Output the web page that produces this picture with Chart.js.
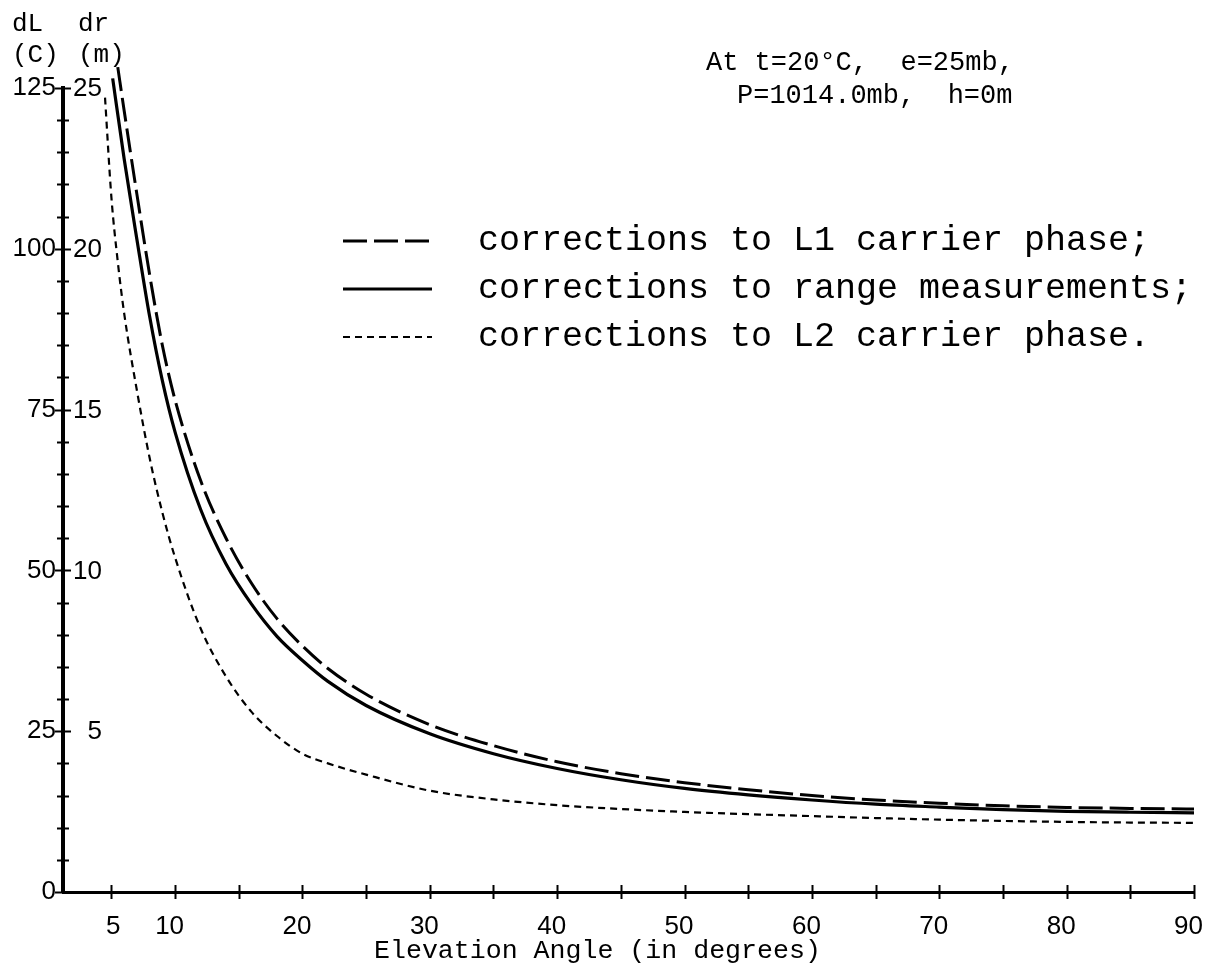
<!DOCTYPE html>
<html>
<head>
<meta charset="utf-8">
<script src="https://cdn.jsdelivr.net/npm/chart.js@4.4.1/dist/chart.umd.min.js"></script>
<style>
  html, body { margin: 0; padding: 0; background: #fff; }
  #wrap { width: 1213px; height: 969px; position: relative; }
</style>
</head>
<body>
<div id="wrap"><canvas id="c" width="1213" height="969"></canvas></div>
<script>
// ---- data (dr in metres; dL in cycles = 5 x dr) ----
const elevL1 = [5.5, 6, 7, 8, 9, 10, 12, 14, 16, 18, 20, 22, 25, 30, 35, 40, 45, 50, 55, 60, 65, 70, 75, 80, 85, 90];
const valsL1 = [25.65, 24.3, 21.7, 19.2, 17.0, 15.3, 12.8, 11.0, 9.6, 8.5, 7.65, 6.95, 6.15, 5.2, 4.55, 4.05, 3.68, 3.4, 3.18, 3.0, 2.86, 2.76, 2.68, 2.63, 2.6, 2.58];

const elevRange = [5.1, 6, 7, 8, 9, 10, 12, 14, 16, 18, 20, 22, 25, 30, 35, 40, 45, 50, 55, 60, 65, 70, 75, 80, 85, 90];
const valsRange = [25.3, 22.8, 20.3, 17.9, 15.9, 14.3, 11.9, 10.2, 8.95, 7.95, 7.2, 6.55, 5.8, 4.92, 4.3, 3.84, 3.49, 3.22, 3.02, 2.86, 2.73, 2.64, 2.56, 2.51, 2.48, 2.46];

const elevL2 = [4.5, 5, 5.5, 6, 7, 8, 9, 10, 12, 14, 16, 18, 20, 22, 25, 30, 35, 40, 45, 50, 55, 60, 65, 70, 75, 80, 85, 90];
const valsL2 = [24.7, 21.6, 19.6, 18.0, 15.6, 13.5, 11.8, 10.4, 8.2, 6.7, 5.6, 4.85, 4.3, 4.0, 3.65, 3.15, 2.88, 2.7, 2.58, 2.49, 2.42, 2.36, 2.3, 2.25, 2.21, 2.18, 2.16, 2.15];

const seriesLabels = [
  'corrections to L1 carrier phase;',
  'corrections to range measurements;',
  'corrections to L2 carrier phase.'
];

const xTickValues = [5, 10, 15, 20, 25, 30, 35, 40, 45, 50, 55, 60, 65, 70, 75, 80, 85, 90];
const xTickLabels = ['5', '10', '', '20', '', '30', '', '40', '', '50', '', '60', '', '70', '', '80', '', '90'];
const yTickValues = [0, 5, 10, 15, 20, 25];            // metres
const yTickLabelsDL = ['0', '25', '50', '75', '100', '125'];  // cycles
const yTickLabelsDR = ['', '5', '10', '15', '20', '25'];      // metres
const yMinorStep = 1;

const xTitle = 'Elevation Angle (in degrees)';
const noteLines = ['At t=20\u00B0C,  e=25mb,', 'P=1014.0mb,  h=0m'];
const yHeads = [['dL', '(C)'], ['dr', '(m)']];

const pts = (xs, ys) => xs.map((x, i) => ({ x: x, y: ys[i] }));

const MONO = '"Liberation Mono", "DejaVu Sans Mono", monospace';
const SANS = '"Liberation Sans", Arial, sans-serif';

const extras = {
  id: 'extras',
  afterDraw(chart) {
    const ctx = chart.ctx;
    const xs = chart.scales.x, ys = chart.scales.y;
    const ca = chart.chartArea;
    ctx.save();
    ctx.strokeStyle = '#000';
    ctx.fillStyle = '#000';
    // y tick marks crossing the axis
    ctx.lineWidth = 2;
    for (let v = ys.min; v <= ys.max + 1e-9; v += yMinorStep) {
      const py = Math.round(ys.getPixelForValue(v)) + 0.5;
      const len = (Math.abs(v % 5) < 1e-9) ? 8 : 6;
      ctx.beginPath();
      ctx.moveTo(ca.left - len, py);
      ctx.lineTo(ca.left + len, py);
      ctx.stroke();
    }
    // x tick marks crossing the axis
    xTickValues.forEach(v => {
      const px = Math.round(xs.getPixelForValue(v)) + 0.5;
      ctx.beginPath();
      ctx.moveTo(px, ca.bottom - 7);
      ctx.lineTo(px, ca.bottom + 7);
      ctx.stroke();
    });
    // inner (metre) labels
    ctx.font = '26px ' + SANS;
    ctx.textAlign = 'right';
    ctx.textBaseline = 'middle';
    yTickValues.forEach((v, i) => {
      if (!yTickLabelsDR[i]) return;
      ctx.fillText(yTickLabelsDR[i], ca.left + 39, ys.getPixelForValue(v) + 1);
    });
    // axis heads
    ctx.font = '26px ' + MONO;
    ctx.textAlign = 'left';
    ctx.fillText(yHeads[0][0], 12, 24);
    ctx.fillText(yHeads[0][1], 12, 55);
    ctx.fillText(yHeads[1][0], 78, 24);
    ctx.fillText(yHeads[1][1], 78, 55);
    // x title
    ctx.font = '26.6px ' + MONO;
    ctx.textAlign = 'left';
    ctx.fillText(xTitle, 374, 951);
    // note
    ctx.font = '27px ' + MONO;
    ctx.fillText(noteLines[0], 706, 63);
    ctx.fillText(noteLines[1], 737, 96);
    // legend
    const rows = [241, 289, 337];
    chart.data.datasets.forEach((ds, i) => {
      const y = rows[i];
      ctx.save();
      ctx.lineWidth = ds.borderWidth;
      ctx.setLineDash(ds.borderDash || []);
      ctx.beginPath();
      ctx.moveTo(343, y);
      ctx.lineTo(432, y);
      ctx.stroke();
      ctx.restore();
      ctx.font = '35px ' + MONO;
      ctx.textAlign = 'left';
      ctx.textBaseline = 'middle';
      ctx.fillText(ds.label, 478, y);
    });
    ctx.restore();
  }
};

new Chart(document.getElementById('c'), {
  type: 'line',
  data: {
    datasets: [
      { label: seriesLabels[0], data: pts(elevL1, valsL1), borderColor: '#000', borderWidth: 3, borderDash: [24, 7], pointRadius: 0, fill: false, cubicInterpolationMode: 'monotone', clip: false },
      { label: seriesLabels[1], data: pts(elevRange, valsRange), borderColor: '#000', borderWidth: 3.2, borderDash: [], pointRadius: 0, fill: false, cubicInterpolationMode: 'monotone', clip: false },
      { label: seriesLabels[2], data: pts(elevL2, valsL2), borderColor: '#000', borderWidth: 2.2, borderDash: [7, 5], pointRadius: 0, fill: false, cubicInterpolationMode: 'monotone', clip: false }
    ]
  },
  options: {
    responsive: false,
    animation: false,
    events: [],
    layout: { padding: { top: 88, right: 13, bottom: 0, left: 0 } },
    plugins: { legend: { display: false }, tooltip: { enabled: false }, title: { display: false } },
    scales: {
      x: {
        type: 'linear', position: 'bottom', min: 1.2, max: 90,
        grid: { display: false, drawTicks: false },
        border: { display: true, color: '#000', width: 3 },
        ticks: {
          color: '#000', font: { family: SANS, size: 26 }, padding: 19,
          align: 'end', labelOffset: 9, autoSkip: false, maxRotation: 0,
          callback: (v, i) => xTickLabels[i]
        },
        afterBuildTicks: s => { s.ticks = xTickValues.map(v => ({ value: v })); },
        afterFit: s => { s.height = 77; }
      },
      y: {
        type: 'linear', position: 'left', min: 0, max: 25,
        grid: { display: false, drawTicks: false },
        border: { display: true, color: '#000', width: 4 },
        ticks: {
          color: '#000', font: { family: SANS, size: 26 }, padding: 7,
          autoSkip: false,
          callback: (v, i) => yTickLabelsDL[i]
        },
        afterBuildTicks: s => { s.ticks = yTickValues.map(v => ({ value: v })); },
        afterFit: s => { s.width = 63; }
      }
    }
  },
  plugins: [extras]
});
</script>
</body>
</html>
